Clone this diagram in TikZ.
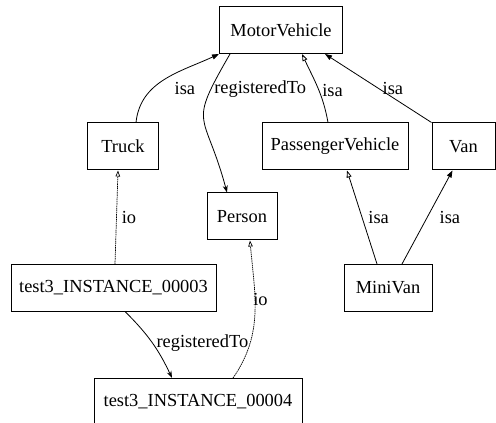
\documentclass[tikz,border=0pt]{standalone}
\usepackage{fontspec}
\setmainfont{Liberation Serif}
\usetikzlibrary{arrows.meta}

\begin{document}
\begin{tikzpicture}[
  x=1pt, y=1pt, font=\fontsize{18.4}{20}\selectfont,
  box/.style={draw, rectangle, line width=1pt, minimum height=47pt, inner sep=0pt},
  isa/.style={-{Triangle[open, length=7pt, width=5pt]}, line width=0.8pt},
  isafill/.style={-{Triangle[length=7pt, width=5pt]}, line width=0.8pt},
  iolink/.style={-{Triangle[open, length=6pt, width=4.5pt]}, line width=0.7pt, dash pattern=on 1.5pt off 0.7pt},
  reg/.style={-{Stealth[length=7pt, width=5pt]}, line width=0.8pt},
  lbl/.style={anchor=west, inner sep=0pt}
]
\useasboundingbox (0,0) rectangle (496,423);

% class nodes
\node[box, minimum width=123pt] (mv) at (281,393) {MotorVehicle};
\node[box, minimum width=71pt] (truck) at (123,276.5) {Truck};
\node[box, minimum width=146pt] (pv) at (335,276.5) {PassengerVehicle};
\node[box, minimum width=63pt] (van) at (463.5,276.5) {Van};
\node[box, minimum width=70pt] (person) at (242,206.5) {Person};
\node[box, minimum width=88pt] (minivan) at (388,135) {MiniVan};

% instance nodes
\node[box, minimum width=205pt] (inst3) at (113.5,135) {test3\_INSTANCE\_00003};
\node[box, minimum width=208pt] (inst4) at (198,21) {test3\_INSTANCE\_00004};

% isa links
\draw[isafill] ([xshift=13pt]truck.north) to[out=84, in=205] node[lbl, pos=0.35, xshift=22pt] {isa} (mv.south west);
\draw[isa] ([xshift=-7pt]pv.north) to[out=100, in=-65] node[lbl, pos=0.45, xshift=3pt] {isa} ([xshift=21pt]mv.south);
\draw[isafill] (van.north west) -- node[lbl, pos=0.49, xshift=3pt] {isa} ([xshift=44pt]mv.south);
\draw[isa] ([xshift=-11pt]minivan.north) -- node[lbl, pos=0.5, xshift=6pt] {isa} ([xshift=12pt]pv.south);
\draw[isafill] ([xshift=14pt]minivan.north) -- node[lbl, pos=0.5, xshift=12pt] {isa} ([xshift=-11pt]van.south);

% registeredTo links
\draw[reg] ([xshift=-51pt]mv.south) to[out=240, in=105, looseness=1.6] node[lbl, pos=0.2, xshift=3pt] {registeredTo} ([xshift=-15pt]person.north);
\draw[reg] ([xshift=12pt]inst3.south) to[bend left=10] node[lbl, pos=0.5, xshift=4pt] {registeredTo} ([xshift=-26pt]inst4.north);

% instance-of links
\draw[iolink] ([xshift=1.5pt]inst3.north) -- node[lbl, pos=0.5, xshift=5pt] {io} ([xshift=-5pt]truck.south);
\draw[iolink] ([xshift=35pt]inst4.north) to[out=55, in=-85] node[lbl, pos=0.6, xshift=-2pt] {io} ([xshift=8pt]person.south);
\end{tikzpicture}
\end{document}
